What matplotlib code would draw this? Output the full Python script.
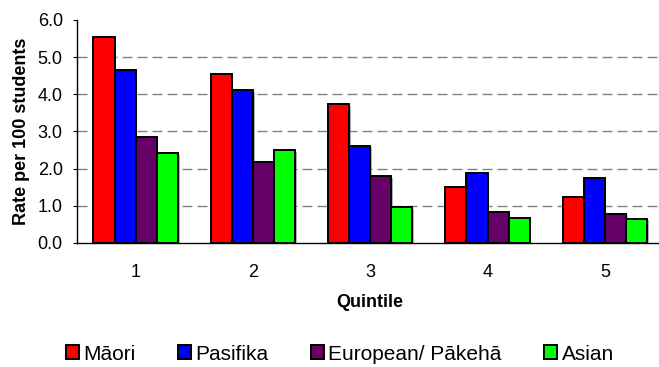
import matplotlib
matplotlib.use("Agg")
import matplotlib.pyplot as plt
import matplotlib.patheffects as pe
from matplotlib.patches import Patch
import numpy as np

plt.rcParams['font.family'] = ['Liberation Sans', 'DejaVu Sans']
plt.rcParams['lines.scale_dashes'] = False

quintiles = ["1", "2", "3", "4", "5"]
series_names = ["Māori", "Pasifika", "European/ Pākehā", "Asian"]
maori = [5.53, 4.55, 3.74, 1.51, 1.23]
pasifika = [4.66, 4.11, 2.62, 1.89, 1.74]
european = [2.86, 2.17, 1.79, 0.83, 0.79]
asian = [2.42, 2.49, 0.97, 0.68, 0.65]
colors = ["#FF0000", "#0000FF", "#660066", "#00FF00"]
yticks = [0.0, 1.0, 2.0, 3.0, 4.0, 5.0, 6.0]

fig = plt.figure(figsize=(6.59, 3.67), dpi=100)
ax = fig.add_axes([0.1168, 0.338, 0.890, 0.6076])

x = np.arange(len(quintiles))
width = 0.18
shadow = [pe.SimplePatchShadow(offset=(1.2, -1.2), shadow_rgbFace="#808080", alpha=0.6), pe.Normal()]
for i, (vals, col) in enumerate(zip([maori, pasifika, european, asian], colors)):
    bars = ax.bar(x + (i - 1.5) * width, vals, width, color=col,
                  edgecolor="black", linewidth=1.4, zorder=3)
    for b in bars:
        b.set_path_effects(shadow)

ax.set_xlim(-0.5, len(quintiles) - 0.5)
ax.set_ylim(0, 6)
ax.set_yticks(yticks)
ax.set_yticklabels([f"{v:.1f}" for v in yticks])
ax.set_xticks(x)
ax.set_xticklabels(quintiles)

for v in yticks[1:-1]:
    ax.axhline(v, color="#808080", linewidth=1.0, linestyle=(0, (7.2, 3.6)), zorder=1)

for s in ["top", "right"]:
    ax.spines[s].set_visible(False)
for s in ["left", "bottom"]:
    ax.spines[s].set_color("black")
    ax.spines[s].set_linewidth(1.0)

ax.tick_params(axis="y", direction="out", length=3.2, width=0.8, pad=7, labelsize=13)
ax.tick_params(axis="x", length=0, pad=15, labelsize=13)

ax.set_ylabel("Rate per 100 students", fontsize=13, fontweight="bold", va="center")
ax.yaxis.set_label_coords(-0.0938, 0.5)
ax.set_xlabel("Quintile", fontsize=13, fontweight="bold", va="center")
ax.xaxis.set_label_coords(0.5, -0.269)

handles = [Patch(facecolor=c, edgecolor="black", linewidth=1.4) for c in colors]
fig.legend(handles, series_names, loc="center", bbox_to_anchor=(340 / 659, 1 - 354 / 367),
           ncol=4, frameon=False, fontsize=15, handlelength=0.62, handleheight=0.62,
           handletextpad=0.2, columnspacing=2.05, borderpad=0)

fig.savefig("out.png", dpi=100)
